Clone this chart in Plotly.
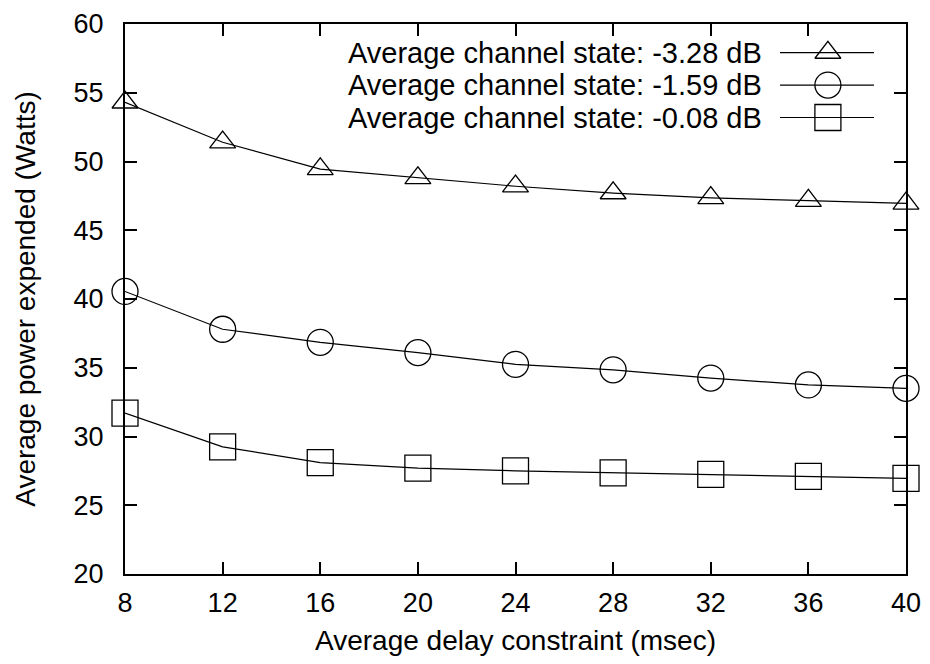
import plotly.graph_objects as go

delay = [8, 12, 16, 20, 24, 28, 32, 36, 40]
power_m328 = [54.3, 51.4, 49.45, 48.8, 48.2, 47.7, 47.35, 47.15, 46.95]
power_m159 = [40.55, 37.8, 36.85, 36.1, 35.25, 34.85, 34.25, 33.75, 33.5]
power_m008 = [31.7, 29.25, 28.1, 27.7, 27.5, 27.35, 27.25, 27.1, 26.95]
labels = ["Average channel state: -3.28 dB",
          "Average channel state: -1.59 dB",
          "Average channel state: -0.08 dB"]
symbols = ["triangle-up-open", "circle-open", "square-open"]
sizes = [22.5, 26, 26]
x_ticks = [8, 12, 16, 20, 24, 28, 32, 36, 40]
y_ticks = [20, 25, 30, 35, 40, 45, 50, 55, 60]

FONT = "Liberation Sans, Arial, sans-serif"
series = [power_m328, power_m159, power_m008]

fig = go.Figure()
for vals, sym, sz, name in zip(series, symbols, sizes, labels):
    fig.add_trace(go.Scatter(
        x=delay, y=vals, mode="lines+markers", name=name,
        line=dict(color="black", width=1.2),
        marker=dict(symbol=sym, size=sz, color="black", line=dict(width=1.3, color="black")),
        showlegend=False, cliponaxis=False))

# custom legend (text left, sample right) drawn on an overlay axis in [0,1]
leg_y = [0.948, 0.889, 0.830]
leg_x0, leg_x1, leg_xm, leg_tx = 0.8387, 0.959, 0.900, 0.818
for yy, sym, sz, name in zip(leg_y, symbols, sizes, labels):
    fig.add_trace(go.Scatter(
        x=[leg_x0, leg_x1], y=[yy, yy], mode="lines", xaxis="x2", yaxis="y2",
        line=dict(color="black", width=1.2), showlegend=False, hoverinfo="skip"))
    fig.add_trace(go.Scatter(
        x=[leg_xm], y=[yy], mode="markers", xaxis="x2", yaxis="y2",
        marker=dict(symbol=sym, size=sz, color="black", line=dict(width=1.3, color="black")),
        showlegend=False, hoverinfo="skip"))
    fig.add_annotation(x=leg_tx, y=yy, xref="paper", yref="paper", text=name,
                       showarrow=False, xanchor="right", yanchor="middle",
                       font=dict(family=FONT, size=29, color="black"))

axis_common = dict(showline=True, linewidth=2, linecolor="black", mirror="ticks",
                   ticks="inside", ticklen=12, tickwidth=2, tickcolor="black",
                   showgrid=False, zeroline=False, automargin=False,
                   tickfont=dict(family=FONT, size=27, color="black"))

fig.update_layout(
    width=922, height=648,
    margin=dict(l=117, r=24, t=16, b=82),
    paper_bgcolor="white", plot_bgcolor="white",
    xaxis=dict(range=[8, 40], tickvals=x_ticks, ticklabelstandoff=4,
               title=dict(text="Average delay constraint (msec)", standoff=18,
                          font=dict(family=FONT, size=28, color="black")),
               **axis_common),
    yaxis=dict(range=[20, 60], tickvals=y_ticks, ticklabelstandoff=14,
               title=dict(text="Average power expended (Watts)", standoff=30,
                          font=dict(family=FONT, size=28, color="black")),
               **axis_common),
    xaxis2=dict(range=[0, 1], overlaying="x", visible=False),
    yaxis2=dict(range=[0, 1], overlaying="y", visible=False),
)

fig.write_html("out.html")
